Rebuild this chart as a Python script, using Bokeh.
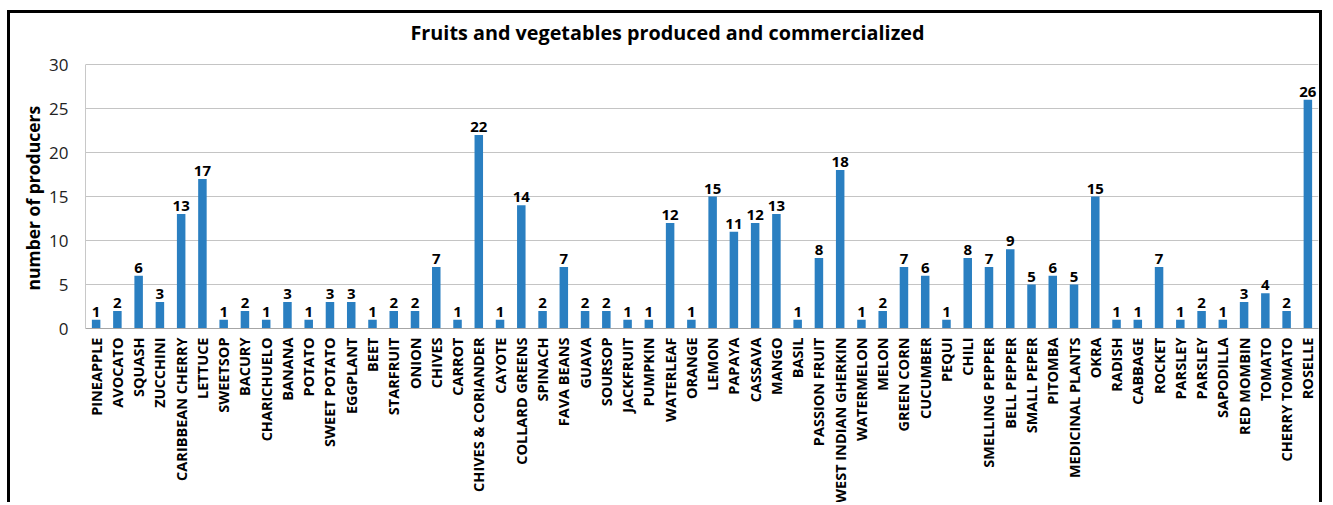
import math
from bokeh.plotting import figure
from bokeh.models import ColumnDataSource, FixedTicker, Range1d, Label, Title
from bokeh.core.properties import value
from bokeh.embed import file_html
from bokeh.resources import INLINE

categories = [
    "PINEAPPLE", "AVOCATO", "SQUASH", "ZUCCHINI", "CARIBBEAN CHERRY", "LETTUCE",
    "SWEETSOP", "BACURY", "CHARICHUELO", "BANANA", "POTATO", "SWEET POTATO",
    "EGGPLANT", "BEET", "STARFRUIT", "ONION", "CHIVES", "CARROT",
    "CHIVES & CORIANDER", "CAYOTE", "COLLARD GREENS", "SPINACH", "FAVA BEANS",
    "GUAVA", "SOURSOP", "JACKFRUIT", "PUMPKIN", "WATERLEAF", "ORANGE", "LEMON",
    "PAPAYA", "CASSAVA", "MANGO", "BASIL", "PASSION FRUIT", "WEST INDIAN GHERKIN",
    "WATERMELON", "MELON", "GREEN CORN", "CUCUMBER", "PEQUI", "CHILI",
    "SMELLING PEPPER", "BELL PEPPER", "SMALL PEPER", "PITOMBA", "MEDICINAL PLANTS",
    "OKRA", "RADISH", "CABBAGE", "ROCKET", "PARSLEY", "PARSLEY", "SAPODILLA",
    "RED MOMBIN", "TOMATO", "CHERRY TOMATO", "ROSELLE",
]
producers = [
    1, 2, 6, 3, 13, 17,
    1, 2, 1, 3, 1, 3,
    3, 1, 2, 2, 7, 1,
    22, 1, 14, 2, 7,
    2, 2, 1, 1, 12, 1, 15,
    11, 12, 13, 1, 8, 18,
    1, 2, 7, 6, 1, 8,
    7, 9, 5, 6, 5,
    15, 1, 1, 7, 1, 2, 1,
    3, 4, 2, 26,
]
y_ticks = [0, 5, 10, 15, 20, 25, 30]
title_text = "Fruits and vegetables produced and commercialized"
y_label = "number of producers"

# layout (pixels): plot frame spans the full top of the canvas so the title fits inside it
FRAME_H = 315          # frame height in px
AXIS_H = 264           # px used by the 0..30 value scale
y_max = y_ticks[-1]
y_end = y_max * FRAME_H / AXIS_H

xs = list(range(len(categories)))
src = ColumnDataSource(dict(x=xs, top=producers, lbl=[str(v) for v in producers]))

p = figure(
    width=1315, height=492, output_backend="svg", toolbar_location=None,
    x_range=Range1d(-0.5, len(categories) - 0.5), y_range=Range1d(0, y_end),
    min_border_left=75, min_border_top=0, min_border_right=7, min_border_bottom=177,
)
p.styles = {"border-top": "3px solid black", "border-left": "3px solid black",
            "border-right": "3px solid black", "margin-left": "7px", "margin-top": "10px"}

# chart title (screen units relative to the plot frame's bottom-left corner)
p.add_layout(Label(x=582, y=FRAME_H - 19, x_units="screen", y_units="screen", text=title_text,
                   text_align="center", text_baseline="middle",
                   text_font="Open Sans", text_font_style="bold",
                   text_font_size="19.8px", text_color="#000000"))

p.vbar(x="x", top="top", width=0.4, source=src, fill_color="#2A7FC1", line_color=None)
p.text(x="x", y="top", text="lbl", source=src, text_align="center", text_baseline="bottom",
       y_offset=-3, text_font=value("Open Sans"), text_font_style="bold",
       text_font_size="15px", text_color="#000000")

p.outline_line_color = None
p.xgrid.grid_line_color = None
p.ygrid.grid_line_color = "#C4C4C4"
p.ygrid.grid_line_width = 1

p.yaxis.ticker = FixedTicker(ticks=y_ticks)
p.yaxis.bounds = (0, y_max)
p.yaxis.major_tick_line_color = None
p.yaxis.minor_tick_line_color = None
p.yaxis.major_tick_out = 0
p.yaxis.major_tick_in = 0
p.yaxis.axis_line_color = "#C8C8C8"
p.yaxis.major_label_text_font = "Open Sans"
p.yaxis.major_label_text_font_size = "17px"
p.yaxis.major_label_text_color = "#222222"
p.yaxis.major_label_standoff = 17

# y-axis title, starting at the bottom of the value scale
p.add_layout(Title(text=y_label, align="left", offset=38, standoff=3,
                   text_font="Open Sans", text_font_style="bold",
                   text_font_size="17.5px", text_color="#000000"), "left")

p.xaxis.ticker = FixedTicker(ticks=xs)
p.xaxis.major_label_overrides = {i: c for i, c in enumerate(categories)}
p.xaxis.major_label_orientation = math.pi / 2
p.xaxis.major_tick_line_color = None
p.xaxis.minor_tick_line_color = None
p.xaxis.major_tick_out = 0
p.xaxis.major_tick_in = 0
p.xaxis.axis_line_color = "#A6A6A6"
p.xaxis.major_label_text_font = "Open Sans"
p.xaxis.major_label_text_font_style = "bold"
p.xaxis.major_label_text_font_size = "14.5px"
p.xaxis.major_label_text_color = "#000000"
p.xaxis.major_label_standoff = 9

open("out.html", "w").write(file_html(p, INLINE))
